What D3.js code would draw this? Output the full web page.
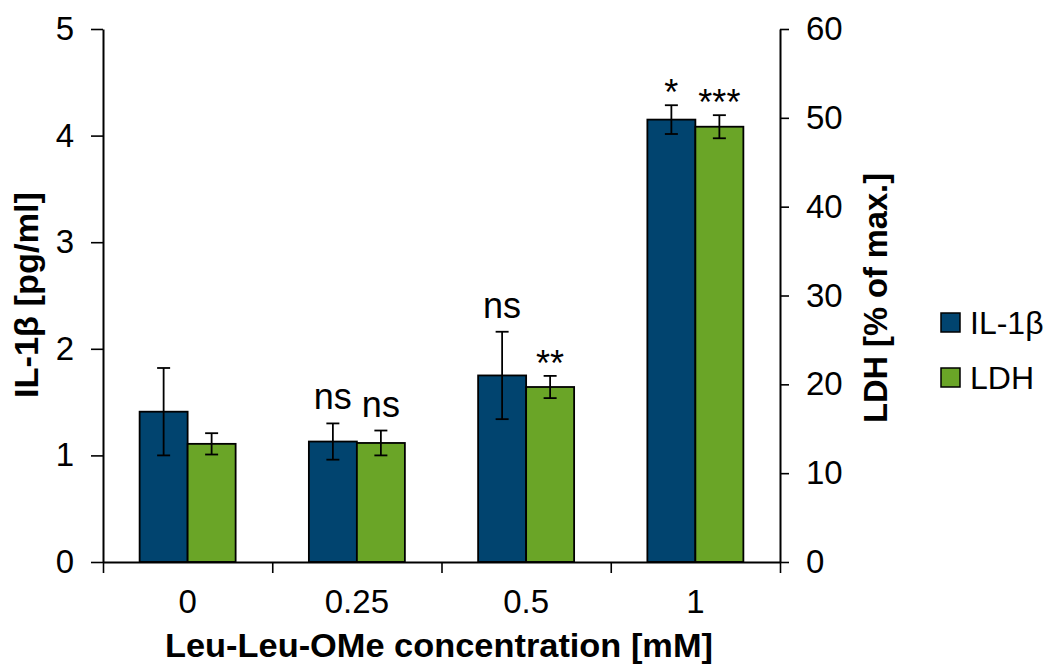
<!DOCTYPE html>
<html>
<head>
<meta charset="utf-8">
<script src="https://cdn.jsdelivr.net/npm/d3@7"></script>
<style>
  body { margin: 0; background: #fff; }
  text { font-family: "Liberation Sans", Arial, sans-serif; fill: #000; }
</style>
</head>
<body>
<script>
// data
var categories = ["0", "0.25", "0.5", "1"]
var series = ["IL-1β", "LDH"]
var il1b = [1.41, 1.13, 1.75, 4.15]
var il1bErr = [0.41, 0.17, 0.41, 0.135]
var ldh = [13.3, 13.4, 19.7, 49.0]
var ldhErr = [1.2, 1.4, 1.25, 1.3]
var il1bSig = ["", "ns", "ns", "*"]
var ldhSig = ["", "ns", "**", "***"]
var leftTicks = [0, 1, 2, 3, 4, 5]
var rightTicks = [0, 10, 20, 30, 40, 50, 60]

var colors = ["#01446f", "#6aa527"]

var w = 1051
var h = 666
// plot edges (note: "top" is taken by window.top)
var pLeft = 103, pRight = 780, pTop = 29, pBottom = 562

var svg = d3.select("body").append("svg")
   .attr("width", w)
   .attr("height", h)

var x0 = d3.scaleBand().domain(categories).range([pLeft, pRight])
var x1 = d3.scaleBand().domain(series).range([0, x0.bandwidth()]).paddingInner(0).paddingOuter(0.763)
var xEdge = d3.scaleLinear().domain([0, categories.length]).range([pLeft, pRight])
var yL = d3.scaleLinear().domain([0, 5]).range([pBottom, pTop])
var yR = d3.scaleLinear().domain([0, 60]).range([pBottom, pTop])

// one row per bar
var rows = []
categories.forEach(function(c, i) {
	rows.push({cat: c, s: series[0], v: il1b[i], e: il1bErr[i], sig: il1bSig[i], y: yL, col: colors[0]})
	rows.push({cat: c, s: series[1], v: ldh[i], e: ldhErr[i], sig: ldhSig[i], y: yR, col: colors[1]})
})

svg.append("g").selectAll("rect").data(rows).join("rect")
	.attr("x", function(d) { return x0(d.cat) + x1(d.s) })
	.attr("width", x1.bandwidth())
	.attr("y", function(d) { return d.y(d.v) })
	.attr("height", function(d) { return pBottom - d.y(d.v) })
	.attr("fill", function(d) { return d.col })
	.attr("stroke", "#000").attr("stroke-width", 1.8)

// error bars
var eb = svg.append("g").attr("stroke", "#000").attr("stroke-width", 1.8)
rows.forEach(function(d) {
	var cx = x0(d.cat) + x1(d.s) + x1.bandwidth() / 2
	var y1 = d.y(d.v + d.e), y2 = d.y(d.v - d.e)
	eb.append("line").attr("x1", cx).attr("x2", cx).attr("y1", y1).attr("y2", y2)
	eb.append("line").attr("x1", cx - 6.5).attr("x2", cx + 6.5).attr("y1", y1).attr("y2", y1)
	eb.append("line").attr("x1", cx - 6.5).attr("x2", cx + 6.5).attr("y1", y2).attr("y2", y2)
})

// significance marks
svg.append("g").selectAll("text").data(rows.filter(function(d) { return d.sig })).join("text")
	.attr("x", function(d) { return x0(d.cat) + x1(d.s) + x1.bandwidth() / 2 })
	.attr("y", function(d) { return d.y(d.v + d.e) - (d.sig == "ns" ? 14 : 0) })
	.attr("text-anchor", "middle")
	.style("font-size", "36px")
	.text(function(d) { return d.sig })

// axes
var axL = svg.append("g").attr("transform", "translate(" + pLeft + ",0)")
	.call(d3.axisLeft(yL).tickValues(leftTicks).tickFormat(d3.format("d")).tickSize(12).tickSizeOuter(0).tickPadding(17))
var axR = svg.append("g").attr("transform", "translate(" + pRight + ",0)")
	.call(d3.axisRight(yR).tickValues(rightTicks).tickFormat(d3.format("d")).tickSize(9).tickSizeOuter(0).tickPadding(17))
var axB = svg.append("g").attr("transform", "translate(0," + pBottom + ")")
	.call(d3.axisBottom(xEdge).ticks(categories.length).tickSize(11).tickSizeOuter(0).tickFormat(""))
var axLab = svg.append("g").attr("transform", "translate(0," + pBottom + ")")
	.call(d3.axisBottom(x0).tickSize(0).tickPadding(28))
axLab.select(".domain").remove()

svg.selectAll(".domain").attr("stroke-width", 2)
svg.selectAll(".tick line").attr("stroke-width", 1.6)
svg.selectAll(".tick text").style("font-size", "33px").attr("font-family", null)

// titles
svg.append("text")
	.attr("transform", "translate(26,295) rotate(-90)")
	.attr("text-anchor", "middle").attr("dominant-baseline", "central")
	.attr("textLength", 206).attr("lengthAdjust", "spacingAndGlyphs")
	.style("font-size", "33px").style("font-weight", "bold")
	.text("IL-1β [pg/ml]")
svg.append("text")
	.attr("transform", "translate(875,298) rotate(-90)")
	.attr("text-anchor", "middle").attr("dominant-baseline", "central")
	.attr("textLength", 250).attr("lengthAdjust", "spacingAndGlyphs")
	.style("font-size", "33px").style("font-weight", "bold")
	.text("LDH [% of max.]")
svg.append("text")
	.attr("x", 439).attr("y", 657)
	.attr("text-anchor", "middle")
	.attr("textLength", 548).attr("lengthAdjust", "spacingAndGlyphs")
	.style("font-size", "33px").style("font-weight", "bold")
	.text("Leu-Leu-OMe concentration [mM]")

// legend
var lg = svg.append("g").attr("transform", "translate(941,313)")
series.forEach(function(s, i) {
	lg.append("rect").attr("x", 0).attr("y", i * 55).attr("width", 19).attr("height", 19)
		.attr("fill", colors[i]).attr("stroke", "#000").attr("stroke-width", 1.5)
	lg.append("text").attr("x", 29).attr("y", i * 55 + 10).attr("dominant-baseline", "central")
		.style("font-size", "32px").text(s)
})
</script>
</body>
</html>
